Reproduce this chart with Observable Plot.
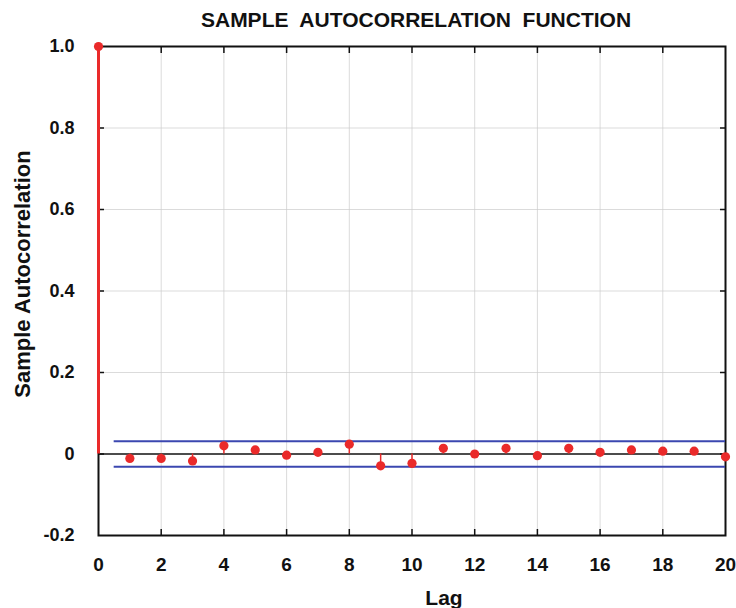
<!DOCTYPE html>
<html><head><meta charset="utf-8">
<script src="https://cdn.jsdelivr.net/npm/d3@7"></script>
<script src="https://cdn.jsdelivr.net/npm/@observablehq/plot@0.6"></script>
<style>body{margin:0;background:#fff} svg{font-family:"Liberation Sans",Arial,sans-serif}</style>
</head><body><div id="chart"></div>
<script>
const lags = [0,1,2,3,4,5,6,7,8,9,10,11,12,13,14,15,16,17,18,19,20];
const acf = [1.0,-0.011,-0.011,-0.017,0.020,0.010,-0.003,0.004,0.024,-0.029,-0.023,0.014,0.0,0.014,-0.004,0.014,0.004,0.010,0.007,0.007,-0.007];
const confBound = 0.031;
const confStart = 0.5, confEnd = 20;
const xTicks = [0,2,4,6,8,10,12,14,16,18,20];
const yTicks = [-0.2,0,0.2,0.4,0.6,0.8,1.0];
const titleText = "SAMPLE  AUTOCORRELATION  FUNCTION";
const yLabel = "Sample Autocorrelation";
const xLabel = "Lag";

const pts = lags.map((l,i)=>({lag:l, r:acf[i]}));
const red = "#ea2a2a", blue = "#3b47b0";
const fmtY = d => d === 0 ? "0" : d.toFixed(1);
const inner = (arr) => arr.slice(1,-1);

const chart = Plot.plot({
  width: 736, height: 608,
  marginLeft: 98, marginRight: 11, marginTop: 46, marginBottom: 73,
  x: {domain: [0,20], ticks: xTicks},
  y: {domain: [-0.2,1.0], ticks: yTicks},
  style: {fontWeight: "bold", color: "#111"},
  marks: [
    Plot.gridX(inner(xTicks), {stroke: "#ccc", strokeOpacity: 0.7}),
    Plot.gridY(yTicks.slice(2,-1), {stroke: "#ccc", strokeOpacity: 0.7}),
    Plot.axisX(inner(xTicks), {anchor: "bottom", tickSize: -6, text: null, label: null, stroke: "#111", strokeWidth: 1.5}),
    Plot.axisX(inner(xTicks), {anchor: "top", tickSize: -6, text: null, label: null, stroke: "#111", strokeWidth: 1.5}),
    Plot.axisY(inner(yTicks), {anchor: "left", tickSize: -6, text: null, label: null, stroke: "#111", strokeWidth: 1.5}),
    Plot.axisY(inner(yTicks), {anchor: "right", tickSize: -6, text: null, label: null, stroke: "#111", strokeWidth: 1.5}),
    Plot.axisX(xTicks, {anchor: "bottom", tickSize: 0, tickPadding: 22, label: null, fontSize: 19, fontWeight: "bold", fill: "#111"}),
    Plot.axisY(yTicks, {anchor: "left", tickSize: 0, tickPadding: 24, tickFormat: fmtY, label: null, fontSize: 18, fontWeight: "bold", fill: "#111"}),
    Plot.frame({stroke: "#111", strokeWidth: 2}),
    Plot.ruleY([0], {stroke: "#111", strokeWidth: 1.5}),
    Plot.ruleY([confBound, -confBound], {x1: confStart, x2: confEnd, stroke: blue, strokeWidth: 2}),
    Plot.ruleX(pts.slice(0,1), {x: "lag", y1: 0, y2: "r", stroke: red, strokeWidth: 3}),
    Plot.ruleX(pts.slice(1), {x: "lag", y1: 0, y2: "r", stroke: red, strokeWidth: 1.5}),
    Plot.dot(pts, {x: "lag", y: "r", r: 4.6, fill: red}),
    Plot.text([titleText], {frameAnchor: "top", lineAnchor: "middle", dy: -26, dx: 4, fontSize: 21, fontWeight: "bold", fill: "#111"}),
    Plot.text([yLabel], {frameAnchor: "left", textAnchor: "middle", lineAnchor: "middle", dx: -76, dy: -17, rotate: -90, fontSize: 22, fontWeight: "bold", fill: "#111"}),
    Plot.text([xLabel], {frameAnchor: "bottom", lineAnchor: "middle", dx: 32, dy: 63, fontSize: 21, fontWeight: "bold", fill: "#111"})
  ]
});
document.getElementById("chart").appendChild(chart);
</script></body></html>
